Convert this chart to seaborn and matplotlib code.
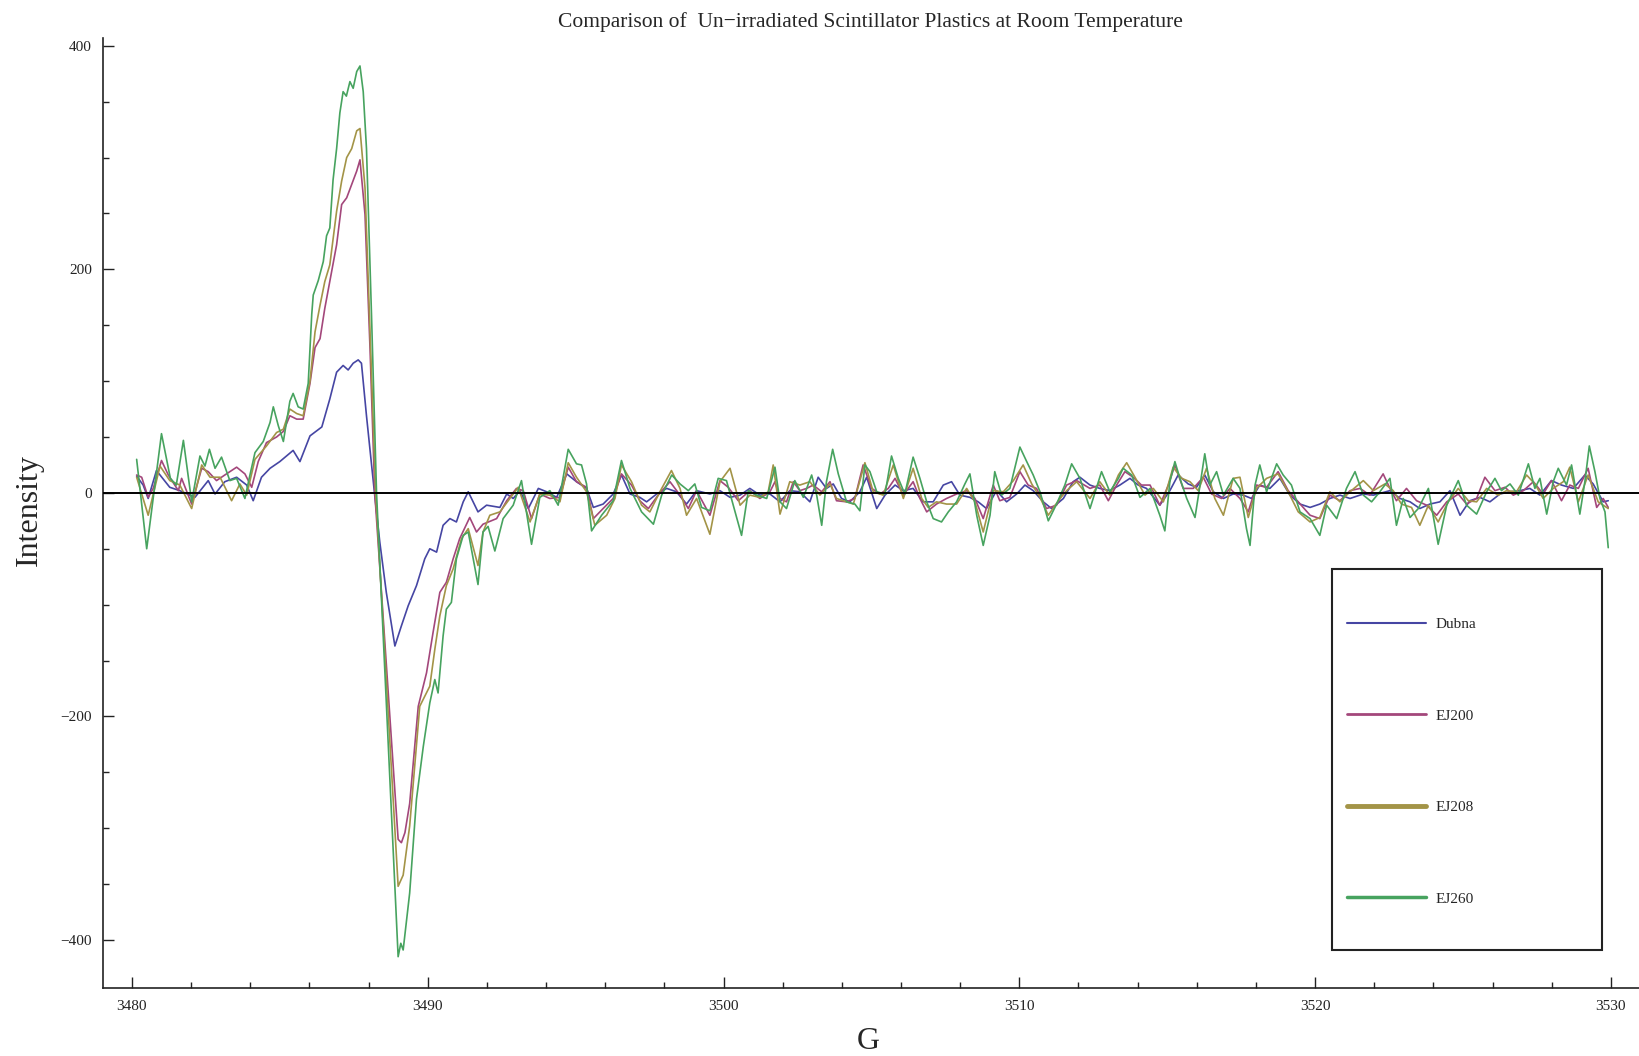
import pandas as pd
import matplotlib.pyplot as plt
import matplotlib.patches as mpatches
from matplotlib.ticker import MultipleLocator
import seaborn as sns

# EPR spectra: (field G, intensity)
dubna = [
    (3480.16, 15), (3480.38, 7), (3480.55, -5), (3480.83, 20), (3481.28, 5), (3481.62, 2),
    (3482.13, -4), (3482.58, 11), (3482.81, -1), (3483.14, 10), (3483.54, 14), (3483.88, 7),
    (3484.10, -7), (3484.38, 14), (3484.67, 22), (3485.00, 28), (3485.45, 38), (3485.68, 28),
    (3486.02, 51), (3486.42, 59), (3486.69, 84), (3486.92, 108), (3487.14, 114), (3487.31, 110),
    (3487.48, 116), (3487.65, 119), (3487.76, 116), (3487.93, 69), (3488.20, 0), (3488.38, -44),
    (3488.60, -89), (3488.89, -137), (3489.11, -119), (3489.34, -101), (3489.62, -83), (3489.90, -59),
    (3490.07, -50), (3490.30, -53), (3490.52, -29), (3490.75, -23), (3490.97, -26), (3491.20, -8),
    (3491.37, 1), (3491.70, -17), (3491.99, -11), (3492.44, -13), (3492.67, -1), (3492.89, -5),
    (3493.12, 2), (3493.40, -14), (3493.74, 4), (3494.02, 1), (3494.36, -4), (3494.70, 17),
    (3495.03, 10), (3495.37, 4), (3495.60, -13), (3495.93, -10), (3496.27, -1), (3496.55, 16),
    (3496.84, -1), (3497.17, -4), (3497.40, -8), (3497.74, -1), (3498.08, 4), (3498.41, 1),
    (3498.75, -10), (3499.09, 2), (3499.54, -1), (3499.88, 2), (3500.22, -4), (3500.56, -2),
    (3500.89, 4), (3501.23, -2), (3501.57, -1), (3501.91, -8), (3502.24, 2), (3502.58, 1),
    (3502.92, -8), (3503.20, 14), (3503.48, 4), (3503.71, 8), (3503.99, -5), (3504.27, -8),
    (3504.61, 1), (3504.84, 14), (3505.18, -14), (3505.46, -2), (3505.80, 7), (3506.08, 2),
    (3506.41, 4), (3506.75, -8), (3507.09, -8), (3507.43, 7), (3507.71, 10), (3507.99, -2),
    (3508.33, -4), (3508.61, -8), (3508.89, -14), (3509.23, 2), (3509.57, -8), (3509.91, -1),
    (3510.19, 7), (3510.47, 2), (3510.81, -8), (3511.09, -14), (3511.49, -5), (3511.82, 10),
    (3512.05, 14), (3512.39, 7), (3512.72, 4), (3513.06, 2), (3513.40, 7), (3513.74, 13),
    (3514.02, 7), (3514.30, 4), (3514.75, -11), (3515.09, 2), (3515.37, 16), (3515.71, 8),
    (3515.99, 5), (3516.27, 16), (3516.56, 1), (3516.90, -5), (3517.23, -1), (3517.57, -2),
    (3517.85, -5), (3518.13, 7), (3518.47, 4), (3518.81, 13), (3519.15, -2), (3519.49, -10),
    (3519.83, -13), (3520.16, -10), (3520.50, -5), (3520.84, -2), (3521.18, -5), (3521.63, -1),
    (3521.97, -2), (3522.53, 2), (3522.87, -5), (3523.21, -8), (3523.54, -14), (3523.88, -10),
    (3524.22, -8), (3524.56, 2), (3524.90, -20), (3525.23, -7), (3525.57, -4), (3525.91, -8),
    (3526.25, -1), (3526.59, 1), (3526.92, 2), (3527.26, 4), (3527.60, -2), (3527.99, 11),
    (3528.33, 7), (3528.73, 4), (3529.12, 16), (3529.40, 8), (3529.74, -8), (3529.91, -7),
]

ej200 = [
    (3480.16, 16), (3480.33, 14), (3480.55, -4), (3480.72, 4), (3481.00, 29), (3481.23, 16),
    (3481.57, 2), (3481.68, 13), (3482.02, -10), (3482.36, 22), (3482.58, 19), (3482.86, 11),
    (3483.14, 16), (3483.54, 23), (3483.82, 17), (3484.05, 5), (3484.27, 28), (3484.55, 45),
    (3484.89, 50), (3485.12, 55), (3485.34, 69), (3485.57, 66), (3485.79, 66), (3486.02, 98),
    (3486.19, 130), (3486.36, 138), (3486.52, 165), (3486.69, 189), (3486.92, 222), (3487.09, 258),
    (3487.26, 264), (3487.43, 276), (3487.60, 288), (3487.71, 298), (3487.88, 249), (3488.05, 129),
    (3488.21, 0), (3489.00, -310), (3489.11, -313), (3489.23, -304), (3489.39, -278), (3489.68, -191),
    (3489.96, -161), (3490.18, -125), (3490.41, -89), (3490.63, -80), (3490.86, -59), (3491.08, -41),
    (3491.42, -22), (3491.65, -35), (3491.87, -28), (3492.33, -23), (3492.67, -7), (3493.00, 4),
    (3493.23, 2), (3493.51, -23), (3493.79, -1), (3494.13, -5), (3494.47, -4), (3494.75, 23),
    (3495.03, 10), (3495.37, 5), (3495.60, -23), (3495.93, -14), (3496.27, -5), (3496.55, 17),
    (3496.89, 7), (3497.17, -7), (3497.46, -14), (3497.79, -2), (3498.19, 10), (3498.53, -2),
    (3498.81, -14), (3499.09, 2), (3499.54, -20), (3499.88, 11), (3500.16, 5), (3500.50, -7),
    (3500.89, 2), (3501.23, -5), (3501.57, 1), (3501.74, 10), (3501.91, -5), (3502.13, -8),
    (3502.36, 10), (3502.58, 2), (3502.81, 4), (3503.03, 7), (3503.32, 1), (3503.60, 10),
    (3503.82, -7), (3504.16, -8), (3504.44, -5), (3504.72, 25), (3505.01, 4), (3505.29, -1),
    (3505.57, 4), (3505.80, 13), (3506.08, -2), (3506.41, 10), (3506.64, -5), (3506.87, -17),
    (3507.20, -10), (3507.54, -5), (3507.88, -1), (3508.22, 2), (3508.50, -5), (3508.78, -23),
    (3509.12, 7), (3509.34, -7), (3509.68, -4), (3510.02, 19), (3510.30, 7), (3510.58, 4),
    (3510.92, -14), (3511.26, -11), (3511.60, 7), (3511.94, 11), (3512.39, 4), (3512.72, 7),
    (3513.01, -7), (3513.29, 7), (3513.57, 19), (3513.85, 14), (3514.13, 7), (3514.42, 7),
    (3514.75, -11), (3515.04, 7), (3515.26, 25), (3515.54, 4), (3515.88, 4), (3516.22, 14),
    (3516.50, -1), (3516.84, -5), (3517.12, 4), (3517.46, -5), (3517.74, -17), (3518.02, 7),
    (3518.36, 5), (3518.75, 19), (3519.09, 2), (3519.43, -8), (3519.83, -20), (3520.16, -23),
    (3520.50, -2), (3520.84, -7), (3521.18, 2), (3521.52, 4), (3521.85, -2), (3522.30, 17),
    (3522.53, 4), (3522.75, -7), (3523.09, 4), (3523.43, -7), (3523.77, -11), (3524.11, -20),
    (3524.45, -8), (3524.84, -1), (3525.12, -10), (3525.46, -5), (3525.74, 14), (3526.08, 2),
    (3526.42, 5), (3526.70, -2), (3527.04, 2), (3527.38, 10), (3527.71, -1), (3527.99, 11),
    (3528.33, -7), (3528.61, 7), (3528.90, 4), (3529.23, 22), (3529.52, -13), (3529.74, -5),
    (3529.91, -13),
]

ej208 = [
    (3480.16, 14), (3480.55, -20), (3480.95, 24), (3481.28, 11), (3481.62, 7), (3482.02, -14),
    (3482.36, 25), (3482.64, 14), (3482.98, 14), (3483.37, -7), (3483.65, 8), (3483.88, -2),
    (3484.16, 30), (3484.55, 42), (3484.89, 54), (3485.12, 57), (3485.34, 75), (3485.57, 71),
    (3485.79, 69), (3486.02, 100), (3486.19, 144), (3486.36, 168), (3486.52, 189), (3486.69, 204),
    (3486.92, 252), (3487.09, 279), (3487.26, 300), (3487.43, 308), (3487.60, 324), (3487.71, 326),
    (3487.88, 273), (3488.05, 144), (3488.24, 0), (3489.00, -352), (3489.17, -342), (3489.39, -298),
    (3489.73, -191), (3490.07, -173), (3490.24, -140), (3490.41, -110), (3490.63, -83), (3490.86, -68),
    (3491.14, -41), (3491.37, -32), (3491.70, -65), (3491.87, -35), (3492.10, -20), (3492.44, -17),
    (3492.78, -5), (3493.06, 5), (3493.46, -26), (3493.79, -1), (3494.13, -2), (3494.47, -8),
    (3494.75, 27), (3495.03, 14), (3495.37, 1), (3495.65, -29), (3496.05, -20), (3496.33, -5),
    (3496.55, 25), (3496.89, 10), (3497.23, -11), (3497.51, -17), (3497.85, 1), (3498.24, 20),
    (3498.53, 4), (3498.75, -20), (3499.09, -5), (3499.54, -37), (3499.88, 10), (3500.22, 22),
    (3500.56, -11), (3500.89, -2), (3501.23, -4), (3501.51, 1), (3501.68, 25), (3501.91, -19),
    (3502.24, 10), (3502.58, 7), (3502.92, 10), (3503.26, -2), (3503.60, 8), (3503.82, -5),
    (3504.16, -8), (3504.39, -10), (3504.78, 27), (3505.06, 1), (3505.40, -2), (3505.74, 25),
    (3506.08, -5), (3506.41, 22), (3506.70, -5), (3506.92, -13), (3507.20, -8), (3507.54, -10),
    (3507.88, -10), (3508.22, 4), (3508.50, -8), (3508.78, -35), (3509.12, 2), (3509.46, 1),
    (3509.80, 11), (3510.13, 25), (3510.42, 8), (3510.70, -4), (3510.98, -20), (3511.32, -7),
    (3511.60, 2), (3511.94, 10), (3512.39, -5), (3512.72, 10), (3513.06, -2), (3513.35, 16),
    (3513.63, 27), (3513.91, 14), (3514.25, -2), (3514.53, 4), (3514.87, -8), (3515.20, 23),
    (3515.49, 13), (3515.77, 10), (3516.05, 2), (3516.33, 22), (3516.61, -5), (3516.90, -20),
    (3517.23, 13), (3517.46, 14), (3517.74, -22), (3518.02, 4), (3518.36, 13), (3518.75, 17),
    (3519.09, 1), (3519.43, -17), (3519.83, -26), (3520.16, -22), (3520.50, 1), (3520.84, -8),
    (3521.18, 1), (3521.63, 11), (3521.97, 2), (3522.36, 8), (3522.64, 2), (3522.92, -10),
    (3523.26, -13), (3523.54, -29), (3523.83, -11), (3524.16, -26), (3524.50, -8), (3524.84, 4),
    (3525.18, -7), (3525.46, -8), (3525.80, 4), (3526.19, -2), (3526.47, 2), (3526.81, 1),
    (3527.15, 16), (3527.43, 8), (3527.71, -5), (3528.05, 4), (3528.39, 10), (3528.61, 23),
    (3528.90, -8), (3529.23, 16), (3529.57, -8), (3529.91, -14),
]

ej260 = [
    (3480.16, 30), (3480.50, -50), (3481.00, 53), (3481.30, 13), (3481.50, 7), (3481.74, 47),
    (3482.02, -8), (3482.30, 33), (3482.47, 24), (3482.62, 39), (3482.81, 22), (3483.03, 32),
    (3483.31, 11), (3483.54, 13), (3483.82, -5), (3483.99, 16), (3484.16, 36), (3484.44, 46),
    (3484.67, 63), (3484.78, 77), (3484.95, 60), (3485.12, 46), (3485.34, 82), (3485.45, 89),
    (3485.62, 77), (3485.79, 75), (3485.96, 98), (3486.08, 160), (3486.13, 177), (3486.30, 190),
    (3486.47, 207), (3486.58, 230), (3486.69, 237), (3486.80, 280), (3486.92, 308), (3487.03, 340),
    (3487.14, 359), (3487.25, 355), (3487.37, 368), (3487.48, 362), (3487.60, 377), (3487.71, 382),
    (3487.82, 359), (3487.93, 308), (3488.10, 159), (3488.27, 0), (3489.00, -415), (3489.09, -403),
    (3489.17, -409), (3489.39, -358), (3489.62, -274), (3489.85, -227), (3490.07, -188), (3490.24, -167),
    (3490.35, -179), (3490.52, -128), (3490.63, -104), (3490.80, -98), (3490.97, -59), (3491.20, -38),
    (3491.37, -35), (3491.54, -59), (3491.70, -82), (3491.87, -35), (3492.04, -30), (3492.27, -52),
    (3492.55, -23), (3492.89, -11), (3493.17, 11), (3493.51, -46), (3493.79, -4), (3494.13, 2),
    (3494.41, -11), (3494.75, 39), (3495.03, 26), (3495.20, 25), (3495.37, 8), (3495.54, -34),
    (3495.88, -20), (3496.27, -7), (3496.55, 29), (3496.84, 4), (3497.23, -17), (3497.63, -28),
    (3497.91, -2), (3498.25, 16), (3498.53, 8), (3498.81, 2), (3499.03, 8), (3499.26, -13),
    (3499.54, -16), (3499.82, 13), (3500.10, 11), (3500.33, -11), (3500.61, -38), (3500.84, 2),
    (3501.12, -2), (3501.46, -5), (3501.74, 23), (3501.91, -8), (3502.13, -14), (3502.41, 11),
    (3502.70, -4), (3502.98, 16), (3503.15, -2), (3503.32, -29), (3503.48, 10), (3503.69, 39),
    (3503.88, 17), (3504.16, -8), (3504.44, -10), (3504.61, -16), (3504.78, 25), (3504.95, 19),
    (3505.18, 1), (3505.46, -1), (3505.68, 33), (3505.91, 13), (3506.13, -1), (3506.41, 32),
    (3506.64, 13), (3506.87, -8), (3507.09, -23), (3507.37, -26), (3507.60, -17), (3507.88, -8),
    (3508.16, 8), (3508.33, 17), (3508.56, -20), (3508.78, -47), (3509.01, -20), (3509.17, 19),
    (3509.40, -2), (3509.68, 4), (3510.02, 41), (3510.25, 28), (3510.47, 16), (3510.70, 1),
    (3510.98, -25), (3511.26, -10), (3511.54, 7), (3511.77, 26), (3512.05, 13), (3512.39, -14),
    (3512.78, 19), (3513.06, 1), (3513.35, 13), (3513.51, 22), (3513.80, 16), (3514.08, -4),
    (3514.42, 4), (3514.75, -20), (3514.92, -34), (3515.09, 10), (3515.26, 28), (3515.43, 13),
    (3515.66, -5), (3515.94, -22), (3516.11, 7), (3516.27, 35), (3516.44, 7), (3516.67, 19),
    (3516.90, -2), (3517.23, 13), (3517.46, 4), (3517.68, -32), (3517.80, -47), (3517.97, 7),
    (3518.13, 25), (3518.36, 1), (3518.70, 26), (3518.92, 16), (3519.20, 7), (3519.49, -17),
    (3519.83, -23), (3520.16, -38), (3520.39, -11), (3520.73, -23), (3521.06, 4), (3521.35, 19),
    (3521.63, -2), (3521.91, -8), (3522.19, 1), (3522.30, 5), (3522.53, 13), (3522.75, -29),
    (3522.98, -5), (3523.21, -22), (3523.49, -14), (3523.83, 4), (3524.16, -46), (3524.45, -11),
    (3524.84, 11), (3525.12, -11), (3525.46, -19), (3525.80, 1), (3526.08, 13), (3526.30, 2),
    (3526.59, 8), (3526.87, -2), (3527.21, 26), (3527.43, 4), (3527.60, 13), (3527.83, -19),
    (3528.05, 10), (3528.22, 22), (3528.50, 7), (3528.67, 25), (3528.95, -19), (3529.12, 10),
    (3529.27, 42), (3529.46, 19), (3529.63, -5), (3529.80, -17), (3529.91, -49),
]

samples = ["Dubna", "EJ200", "EJ208", "EJ260"]
colors = ["#4646a3", "#a3477b", "#a39447", "#47a35f"]

frames = []
for name, pts in zip(samples, [dubna, ej200, ej208, ej260]):
    d = pd.DataFrame(pts, columns=["G", "Intensity"])
    d["sample"] = name
    frames.append(d)
df = pd.concat(frames, ignore_index=True)

sns.set_style("ticks")
plt.rcParams["font.family"] = ["Liberation Serif", "DejaVu Serif"]

fig = plt.figure(figsize=(16.39, 10.56), dpi=100)
ax = fig.add_axes([0.0628, 0.0644, 0.9372, 0.8996])

sns.lineplot(data=df, x="G", y="Intensity", hue="sample", hue_order=samples,
             palette=colors, estimator=None, sort=False, lw=1.2, ax=ax)

ax.axhline(0, color="black", lw=1.4, zorder=5)

ax.set_xlim(3479.02, 3530.95)
ax.set_ylim(-443, 407)
ax.xaxis.set_major_locator(MultipleLocator(10))
ax.xaxis.set_minor_locator(MultipleLocator(2))
ax.yaxis.set_major_locator(MultipleLocator(200))
ax.yaxis.set_minor_locator(MultipleLocator(50))
ax.tick_params(which="both", direction="in", width=1, colors="#222222", labelsize=11)
ax.tick_params(which="major", length=8)
ax.tick_params(which="minor", length=4)
ax.tick_params(axis="y", pad=8)
ax.tick_params(axis="x", pad=9)

for s in ["top", "right"]:
    ax.spines[s].set_visible(False)
for s in ["left", "bottom"]:
    ax.spines[s].set_linewidth(1.2)
    ax.spines[s].set_color("#222222")

ax.set_xlabel("")
ax.set_ylabel("")
fig.text(0.018, 0.517, "Intensity", rotation=90, ha="center", va="center", fontsize=23)
fig.text(0.530, 0.0135, "G", ha="center", va="center", fontsize=23)
fig.text(0.531, 0.979, "Comparison of  Un\u2212irradiated Scintillator Plastics at Room Temperature",
         ha="center", va="center", fontsize=15.5)

# legend: separate frame, entries spread out like the original
handles, labels = ax.get_legend_handles_labels()
leg = ax.legend(handles, labels, loc="upper left", bbox_to_anchor=(0.8218, 0.4155),
                bbox_transform=fig.transFigure, frameon=False, fontsize=11,
                handlelength=5.2, handletextpad=0.6, labelspacing=5.1,
                borderpad=0, borderaxespad=0)
for ln, w in zip(leg.get_lines(), [1.5, 2.0, 3.5, 2.5]):
    ln.set_linewidth(w)
fig.patches.append(mpatches.Rectangle((0.8127, 0.1004), 0.1647, 0.3608, transform=fig.transFigure,
                                      fill=False, edgecolor="#222222", lw=1.5))

fig.savefig("out.png", dpi=100)
